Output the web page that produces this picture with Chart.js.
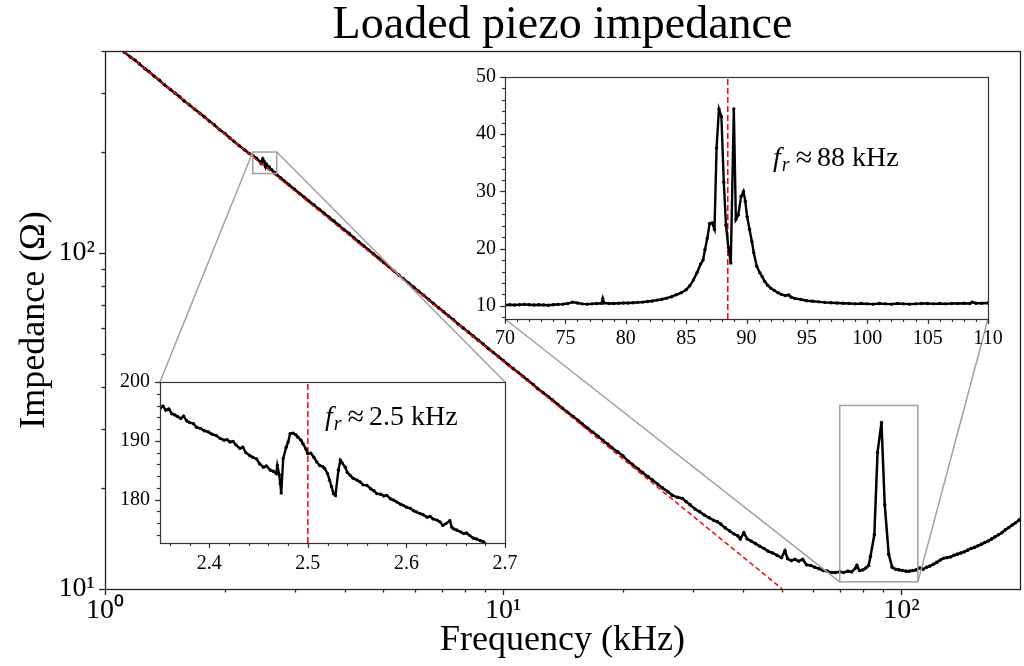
<!DOCTYPE html>
<html>
<head>
<meta charset="utf-8">
<title>Loaded piezo impedance</title>
<script src="https://cdn.jsdelivr.net/npm/chart.js@4.4.1/dist/chart.umd.min.js"></script>
<style>
  body { margin: 0; background: #fff; }
  #wrap { position: relative; width: 1024px; height: 666px; overflow: hidden; }
  #wrap canvas { position: absolute; }
  #mainChart { left: 0; top: 0; z-index: 1; }
  #lowInset { left: 100px; top: 356px; z-index: 2; }
  #highInset { left: 445px; top: 51px; z-index: 2; }
</style>
</head>
<body>
<div id="wrap">
  <canvas id="mainChart" width="1024" height="666"></canvas>
  <canvas id="lowInset" width="431" height="221"></canvas>
  <canvas id="highInset" width="569" height="308"></canvas>
</div>
<script>
// full sweep (kHz, ohm)
const sweepFreq = [
  1.00, 1.03, 1.06, 1.09, 1.12, 1.16, 1.19, 1.22, 1.26, 1.29, 1.33, 1.37, 1.41, 1.46, 1.50, 1.54,
  1.58, 1.63, 1.68, 1.73, 1.78, 1.83, 1.88, 1.94, 2.00, 2.06, 2.11, 2.17, 2.24, 2.30, 2.35, 2.40,
  2.45, 2.47, 2.475, 2.49, 2.51, 2.53, 2.54, 2.58, 2.62, 2.66, 2.70, 2.76, 2.82, 2.90, 2.99, 3.08,
  3.16, 3.25, 3.35, 3.45, 3.55, 3.65, 3.76, 3.87, 3.98, 4.10, 4.22, 4.34, 4.47, 4.60, 4.73, 4.87,
  5.01, 5.16, 5.31, 5.47, 5.62, 5.79, 5.96, 6.13, 6.31, 6.50, 6.68, 6.88, 7.08, 7.29, 7.50, 7.72,
  7.94, 8.17, 8.41, 8.66, 8.91, 9.17, 9.44, 9.72, 10.0, 10.3, 10.6, 10.9, 11.2, 11.5, 11.9, 12.2,
  12.6, 13.0, 13.3, 13.7, 14.1, 14.5, 15.0, 15.4, 15.8, 16.3, 16.8, 17.3, 17.8, 18.3, 18.8, 19.4,
  20.0, 20.6, 21.1, 21.8, 22.4, 23.1, 23.7, 24.4, 25.1, 25.9, 26.6, 27.4, 28.2, 28.8, 29.5, 30.3,
  31.1, 32.0, 32.9, 33.8, 34.5, 35.2, 36.1, 37.0, 37.9, 38.8, 39.4, 40.2, 41.0, 41.9, 43.0, 44.1,
  45.2, 46.3, 47.5, 48.7, 50.0, 51.0, 51.8, 52.9, 54.0, 55.2, 56.5, 57.8, 59.2, 60.6, 62.1, 63.6,
  65.1, 66.7, 68.3, 70.0, 71.6, 73.3, 75.0, 76.7, 77.3, 78.5, 80.0, 81.4, 82.7, 83.6, 85.5, 87.1,
  89.1, 90.8, 92.9, 94.8, 96.7, 98.6, 100.6, 102.6, 104.7, 106.8, 108.9, 111.1, 113.3, 115.6, 117.9, 120.3,
  122.7, 125.2, 127.7, 130.2, 132.8, 135.5, 138.2, 141.0, 143.8, 146.7, 149.6, 152.6, 155.7, 158.8, 162.0, 165.2,
  168.5, 171.9, 175.3, 178.8, 182.4, 186.1, 189.8, 193.6, 197.5, 198.5
];
const sweepZ = [
  441, 430, 419, 408, 396, 383, 375, 366, 354, 347, 336, 327, 317, 307, 299, 292,
  284, 276, 268, 261, 254, 247, 241, 233, 227, 220, 215, 209, 203, 198, 195.5, 191.5,
  187.5, 184.5, 187, 190.6, 187.2, 181, 184.1, 180.7, 177.1, 174, 171.2, 167.5, 164, 159.5, 155, 150.5,
  147, 143, 139, 135, 131.5, 128, 124.5, 121, 117.5, 114.5, 111, 108, 105, 102, 99.3, 96.5,
  93.8, 91.2, 88.6, 86, 83.8, 81.4, 79.2, 77, 74.9, 72.7, 70.8, 68.8, 66.9, 65, 63.3, 61.4,
  59.8, 58.2, 56.6, 55, 53.6, 52, 50.6, 49.2, 47.9, 46.5, 45.3, 44.1, 43, 41.9, 40.6, 39.5,
  38.4, 37.3, 36.5, 35.5, 34.5, 33.6, 32.6, 31.8, 31, 30.1, 29.3, 28.5, 27.7, 27, 26.3, 25.6,
  24.9, 24.0, 23.5, 22.8, 22.2, 21.6, 21.1, 20.55, 20.0, 19.5, 19.0, 18.75, 18.6, 18.2, 17.8, 17.3,
  17.0, 16.6, 16.3, 16.0, 15.85, 15.6, 15.2, 14.9, 14.6, 14.4, 14.1, 14.7, 14.1, 13.9, 13.65, 13.4,
  13.2, 12.95, 12.8, 12.6, 12.4, 13.0, 12.3, 12.15, 12.25, 12.1, 12.25, 11.8, 11.75, 11.6, 11.5, 11.35,
  11.3, 11.2, 11.2, 11.25, 11.2, 11.3, 11.25, 11.55, 11.75, 11.35, 11.4, 11.55, 11.75, 12.5, 14.5, 25.5,
  31.3, 17.8, 12.7, 11.6, 11.45, 11.4, 11.35, 11.3, 11.3, 11.35, 11.4, 11.55, 11.45, 11.6, 11.7, 11.85,
  12.0, 12.2, 12.35, 12.4, 12.45, 12.6, 12.7, 12.8, 12.9, 13.05, 13.2, 13.3, 13.45, 13.6, 13.75, 13.9,
  14.1, 14.3, 14.5, 14.7, 15.0, 15.25, 15.5, 15.75, 16.05, 16.1
];

// capacitive fit, end points
const fitFreq = [1, 50.2];
const fitZ = [443, 10];

// close-up around the low resonance
const lowFreq = [
  2.350, 2.353, 2.356, 2.359, 2.362, 2.365, 2.368, 2.371, 2.374, 2.377, 2.380, 2.384, 2.387, 2.391, 2.395, 2.399,
  2.403, 2.407, 2.411, 2.415, 2.418, 2.421, 2.424, 2.427, 2.431, 2.434, 2.437, 2.441, 2.444, 2.448, 2.451, 2.455,
  2.458, 2.462, 2.465, 2.468, 2.469, 2.471, 2.472, 2.473, 2.475, 2.478, 2.480, 2.482, 2.485, 2.488, 2.490, 2.493,
  2.495, 2.498, 2.500, 2.503, 2.506, 2.509, 2.512, 2.515, 2.517, 2.520, 2.522, 2.524, 2.526, 2.528, 2.531, 2.533,
  2.535, 2.538, 2.540, 2.543, 2.546, 2.550, 2.553, 2.556, 2.560, 2.564, 2.567, 2.570, 2.574, 2.577, 2.580, 2.584,
  2.587, 2.590, 2.594, 2.597, 2.600, 2.604, 2.607, 2.610, 2.614, 2.617, 2.621, 2.624, 2.627, 2.631, 2.634, 2.637,
  2.640, 2.644, 2.646, 2.648, 2.651, 2.655, 2.658, 2.661, 2.664, 2.668, 2.671, 2.675, 2.678, 2.683, 2.690
];
const lowZ = [
  195.5, 195.9, 195.2, 195.4, 194.6, 194.4, 194.1, 193.8, 194.2, 193.4, 193.1, 192.9, 192.3, 192.1, 191.7, 191.5,
  191.1, 190.9, 190.4, 190.1, 190.2, 189.8, 189.9, 189.3, 188.7, 188.9, 188.0, 187.5, 187.2, 186.9, 186.1, 185.5,
  185.7, 185.0, 184.8, 184.4, 185.8, 184.2, 182.7, 181.1, 187.0, 188.9, 189.8, 191.2, 191.3, 191.0, 190.6, 190.1,
  189.5, 188.6, 187.8, 187.9, 187.2, 186.4, 185.8, 185.6, 185.3, 184.4, 183.3, 182.2, 181.0, 180.7, 185.0, 186.7,
  186.2, 185.5, 184.6, 184.1, 183.6, 183.3, 183.0, 182.5, 182.4, 181.8, 181.5, 181.0, 180.9, 180.6, 180.7, 180.1,
  179.9, 179.6, 179.2, 179.0, 178.7, 178.5, 178.1, 177.9, 177.6, 177.4, 177.0, 177.1, 176.7, 176.5, 176.2, 175.6,
  175.9, 176.4, 175.3, 175.0, 174.8, 174.5, 174.2, 174.3, 173.9, 173.4, 173.3, 173.0, 172.8, 172.2, 171.8
];

// close-up around the main resonance
const highFreq = [
  70.0, 70.4, 70.8, 71.2, 71.6, 72.0, 72.4, 72.8, 73.2, 73.6, 74.0, 74.4, 74.8, 75.2, 75.6, 76.0,
  76.4, 76.8, 77.2, 77.6, 78.0, 78.1, 78.2, 78.6, 79.0, 79.4, 79.8, 80.2, 80.6, 81.0, 81.4, 81.8,
  82.2, 82.6, 83.0, 83.4, 83.8, 84.2, 84.6, 85.0, 85.3, 85.6, 85.9, 86.2, 86.4, 86.56, 86.75, 86.95,
  87.15, 87.35, 87.52, 87.72, 87.92, 88.12, 88.3, 88.5, 88.7, 88.95, 89.12, 89.32, 89.55, 89.75, 89.9, 90.05,
  90.25, 90.45, 90.6, 90.85, 91.1, 91.3, 91.5, 91.75, 92.0, 92.3, 92.6, 92.9, 93.2, 93.5, 93.7, 94.0,
  94.5, 95.0, 95.5, 96.0, 96.5, 97.0, 97.5, 98.0, 98.5, 99.0, 99.5, 100.0, 100.5, 101.0, 101.5, 102.0,
  102.5, 103.0, 103.5, 104.0, 104.5, 105.0, 105.5, 106.0, 106.5, 107.0, 107.5, 108.0, 108.5, 108.7, 109.0, 109.5,
  110.0
];
const highZ = [
  10.15, 10.2, 10.15, 10.2, 10.25, 10.2, 10.15, 10.2, 10.15, 10.1, 10.2, 10.25, 10.3, 10.4, 10.65, 10.5,
  10.35, 10.3, 10.35, 10.4, 10.45, 11.3, 10.5, 10.4, 10.4, 10.45, 10.5, 10.5, 10.55, 10.6, 10.65, 10.75,
  10.85, 11.0, 11.15, 11.35, 11.6, 11.95, 12.3, 12.8, 13.5, 14.5, 15.8, 17.3, 18.0, 19.8, 21.8, 24.4,
  24.5, 23.4, 37.6, 44.4, 43.1, 31.6, 24.1, 20.2, 17.5, 44.4, 25.1, 25.9, 29.1, 30.0, 28.3, 25.6,
  23.4, 21.2, 19.3, 16.9, 15.8, 15.1, 14.3, 13.6, 13.1, 12.7, 12.3, 12.0, 11.8, 11.9, 11.5, 11.3,
  11.1, 10.9, 10.8, 10.7, 10.6, 10.55, 10.5, 10.45, 10.4, 10.35, 10.4, 10.35, 10.3, 10.4, 10.35, 10.3,
  10.4, 10.35, 10.3, 10.35, 10.4, 10.4, 10.35, 10.4, 10.35, 10.4, 10.4, 10.45, 10.4, 10.65, 10.45, 10.45,
  10.5
];

// resonance estimates (kHz)
const resonanceLow = 2.5;
const resonanceHigh = 88.45;

// axis limits
const mainFreqRange = [1, 198.5];
const mainZRange = [10, 400];
const lowFreqRange = [2.35, 2.7];
const lowZRange = [172.6, 200];
const highFreqRange = [70, 110];
const highZRange = [7.7, 50];
const highBoxZ = [10.5, 35.2];

// labelled ticks
const mainFreqTicks = [1, 10, 100];
const mainZTicks = [10, 100];
const lowFreqTicks = [2.4, 2.5, 2.6, 2.7];
const lowZTicks = [180, 190, 200];
const highFreqTicks = [70, 75, 80, 85, 90, 95, 100, 105, 110];
const highZTicks = [10, 20, 30, 40, 50];

const serif = '"Liberation Serif", "Times New Roman", serif';
const sup = { 0: '\u2070', 1: '\u00b9', 2: '\u00b2', 3: '\u00b3' };

function points(xs, ys) {
  return xs.map((v, i) => ({ x: v, y: ys[i] }));
}

function logMinor(range) {
  const out = [];
  for (let d = Math.floor(Math.log10(range[0])); d <= Math.ceil(Math.log10(range[1])); d++) {
    for (let m = 2; m <= 9; m++) {
      const v = m * Math.pow(10, d);
      if (v >= range[0] && v <= range[1]) out.push(v);
    }
  }
  return out;
}

function linearMinor(range, step) {
  const out = [];
  for (let v = Math.ceil(range[0] / step) * step; v <= range[1] + 1e-9; v += step) {
    out.push(+v.toFixed(4));
  }
  return out;
}

// box around the plot area plus outward tick marks
const framePlugin = {
  id: 'frame',
  afterDraw(chart, args, opts) {
    const { ctx, chartArea: a, scales } = chart;
    ctx.save();
    ctx.strokeStyle = opts.color;
    ctx.lineWidth = opts.width;
    ctx.strokeRect(Math.round(a.left) + 0.5, Math.round(a.top) + 0.5,
      Math.round(a.right - a.left), Math.round(a.bottom - a.top));
    const mark = (scale, values, len) => {
      values.forEach(v => {
        const p = Math.round(scale.getPixelForValue(v)) + 0.5;
        ctx.beginPath();
        if (scale.isHorizontal()) {
          ctx.moveTo(p, a.bottom);
          ctx.lineTo(p, a.bottom + len);
        } else {
          ctx.moveTo(a.left, p);
          ctx.lineTo(a.left - len, p);
        }
        ctx.stroke();
      });
    };
    mark(scales.x, opts.xMinor, opts.minor);
    mark(scales.y, opts.yMinor, opts.minor);
    mark(scales.x, opts.xMajor, opts.major);
    mark(scales.y, opts.yMajor, opts.major);
    ctx.restore();
  }
};

// white face for the inset axes
const facePlugin = {
  id: 'face',
  beforeDraw(chart) {
    const { ctx, chartArea: a } = chart;
    ctx.save();
    ctx.fillStyle = '#fff';
    ctx.fillRect(a.left, a.top, a.right - a.left, a.bottom - a.top);
    ctx.restore();
  }
};

// "f_r ≈ ..." note inside an inset
const resonanceNote = {
  id: 'resonanceNote',
  afterDatasetsDraw(chart, args, opts) {
    const { ctx, chartArea: a } = chart;
    const x0 = a.left + opts.fx * (a.right - a.left);
    const y0 = a.top + opts.fy * (a.bottom - a.top);
    ctx.save();
    ctx.fillStyle = '#000';
    ctx.textBaseline = 'alphabetic';
    ctx.font = 'italic 28px ' + serif;
    ctx.fillText('f', x0, y0);
    let x = x0 + ctx.measureText('f').width + 1;
    ctx.font = 'italic 20px ' + serif;
    ctx.fillText('r', x, y0 + 5);
    x += ctx.measureText('r').width + 6;
    ctx.font = '30px ' + serif;
    ctx.fillText('\u2248', x, y0 + 1);
    x += ctx.measureText('\u2248').width + 5;
    ctx.font = '28px ' + serif;
    ctx.fillText(opts.text, x, y0);
    ctx.restore();
  }
};

function makeInset(id, cfg) {
  const scaleOpts = (range, ticks, fmt, pad, fit) => ({
    type: 'linear',
    min: range[0],
    max: range[1],
    afterBuildTicks: s => { s.ticks = ticks.map(v => ({ value: v })); },
    afterFit: fit,
    grid: { display: false, drawTicks: false },
    border: { display: false },
    ticks: { font: { family: serif, size: 20 }, color: '#000', padding: pad, autoSkip: false, maxRotation: 0, callback: fmt }
  });
  return new Chart(document.getElementById(id), {
    type: 'line',
    data: {
      datasets: [
        {
          data: points(cfg.freq, cfg.z),
          borderColor: '#000', backgroundColor: '#000',
          borderWidth: 2.4, pointRadius: 1.7, pointBorderWidth: 0, tension: 0
        },
        {
          data: points([cfg.fr, cfg.fr], cfg.zRange),
          borderColor: '#ff0000', borderWidth: 1.5, borderDash: [6, 3], pointRadius: 0
        }
      ]
    },
    options: {
      responsive: false, animation: false, events: [],
      layout: { padding: { top: 26, right: 26, left: 0, bottom: 0 } },
      scales: {
        x: scaleOpts(cfg.freqRange, cfg.freqTicks, cfg.freqFmt, cfg.xPad, s => { s.height = cfg.xAxisHeight; }),
        y: scaleOpts(cfg.zRange, cfg.zTicks, v => String(v), cfg.yPad, s => { s.width = 60; })
      },
      plugins: {
        legend: { display: false },
        tooltip: { enabled: false },
        frame: {
          color: '#333', width: 1.2, major: 5, minor: 3,
          xMajor: cfg.freqTicks, xMinor: linearMinor(cfg.freqRange, cfg.freqMinorStep),
          yMajor: cfg.zTicks, yMinor: linearMinor(cfg.zRange, cfg.zMinorStep)
        },
        resonanceNote: cfg.note
      }
    },
    plugins: [facePlugin, framePlugin, resonanceNote]
  });
}

const lowInset = makeInset('lowInset', {
  freq: lowFreq, z: lowZ, fr: resonanceLow,
  freqRange: lowFreqRange, zRange: lowZRange,
  freqTicks: lowFreqTicks, zTicks: lowZTicks,
  freqFmt: v => v.toFixed(1),
  freqMinorStep: 0.02, zMinorStep: 2,
  xPad: 9, yPad: 10, xAxisHeight: 34,
  note: { fx: 0.478, fy: 0.27, text: resonanceLow.toFixed(1) + ' kHz' }
});

const highInset = makeInset('highInset', {
  freq: highFreq, z: highZ, fr: resonanceHigh,
  freqRange: highFreqRange, zRange: highZRange,
  freqTicks: highFreqTicks, zTicks: highZTicks,
  freqFmt: v => String(v),
  freqMinorStep: 1, zMinorStep: 2,
  xPad: 8, yPad: 9, xAxisHeight: 40,
  note: { fx: 0.555, fy: 0.367, text: Math.round(resonanceHigh) + ' kHz' }
});

// zoom rectangles on the main axes and the lines joining them to the insets
const zoomGuides = {
  id: 'zoomGuides',
  afterDatasetsDraw(chart, args, opts) {
    const { ctx, scales: { x, y } } = chart;
    ctx.save();
    ctx.strokeStyle = '#a0a0a0';
    ctx.lineWidth = 1.5;
    opts.boxes.forEach(b => {
      const x0 = x.getPixelForValue(b.freq[0]);
      const x1 = x.getPixelForValue(b.freq[1]);
      const yLo = y.getPixelForValue(b.z[0]);
      const yHi = y.getPixelForValue(b.z[1]);
      ctx.strokeRect(x0, yHi, x1 - x0, yLo - yHi);
      const a = b.inset.chartArea;
      const ox = b.inset.canvas.offsetLeft;
      const oy = b.inset.canvas.offsetTop;
      const boxY = b.edge === 'top' ? yHi : yLo;
      const insetY = (b.edge === 'top' ? a.top : a.bottom) + oy;
      ctx.beginPath();
      ctx.moveTo(x0, boxY);
      ctx.lineTo(a.left + ox, insetY);
      ctx.moveTo(x1, boxY);
      ctx.lineTo(a.right + ox, insetY);
      ctx.stroke();
    });
    ctx.restore();
  }
};

const mainChart = new Chart(document.getElementById('mainChart'), {
  type: 'line',
  data: {
    datasets: [
      {
        data: points(sweepFreq, sweepZ),
        borderColor: '#000', backgroundColor: '#000',
        borderWidth: 2.5, pointRadius: 1.8, pointBorderWidth: 0, tension: 0, order: 2
      },
      {
        data: points(fitFreq, fitZ),
        borderColor: '#ff0000', borderWidth: 1.5, borderDash: [5, 3], pointRadius: 0, order: 1
      }
    ]
  },
  options: {
    responsive: false, animation: false, events: [],
    layout: { padding: 0 },
    scales: {
      x: {
        type: 'logarithmic',
        min: mainFreqRange[0], max: mainFreqRange[1],
        afterBuildTicks: s => { s.ticks = mainFreqTicks.map(v => ({ value: v })); },
        afterFit: s => { s.height = 77; },
        grid: { display: false, drawTicks: false },
        border: { display: false },
        ticks: {
          font: { family: serif, size: 28 }, color: '#000', padding: 5, autoSkip: false, maxRotation: 0,
          callback: v => '10' + sup[Math.round(Math.log10(v))]
        },
        title: {
          display: true, text: 'Frequency (kHz)', color: '#000',
          font: { family: serif, size: 36 }, padding: { top: 0, bottom: 4 }
        }
      },
      y: {
        type: 'logarithmic',
        min: mainZRange[0], max: mainZRange[1],
        afterBuildTicks: s => { s.ticks = mainZTicks.map(v => ({ value: v })); },
        afterFit: s => { s.width = 105; },
        grid: { display: false, drawTicks: false },
        border: { display: false },
        ticks: {
          font: { family: serif, size: 28 }, color: '#000', padding: 10, autoSkip: false,
          callback: v => '10' + sup[Math.round(Math.log10(v))]
        },
        title: {
          display: true, text: 'Impedance (\u03a9)', color: '#000',
          font: { family: serif, size: 36 }, padding: { top: 13, bottom: 0 }
        }
      }
    },
    plugins: {
      legend: { display: false },
      tooltip: { enabled: false },
      title: {
        display: true, text: 'Loaded piezo impedance', color: '#000', fullSize: false,
        font: { family: serif, size: 46, weight: 'normal', lineHeight: 1.02 },
        padding: { top: 2, bottom: 2 }
      },
      frame: {
        color: '#222', width: 1.3, major: 6, minor: 3.5,
        xMajor: mainFreqTicks, xMinor: logMinor(mainFreqRange),
        yMajor: mainZTicks, yMinor: logMinor(mainZRange)
      },
      zoomGuides: {
        boxes: [
          { freq: lowFreqRange, z: lowZRange, inset: lowInset, edge: 'top' },
          { freq: highFreqRange, z: highBoxZ, inset: highInset, edge: 'bottom' }
        ]
      }
    }
  },
  plugins: [framePlugin, zoomGuides]
});
</script>
</body>
</html>
